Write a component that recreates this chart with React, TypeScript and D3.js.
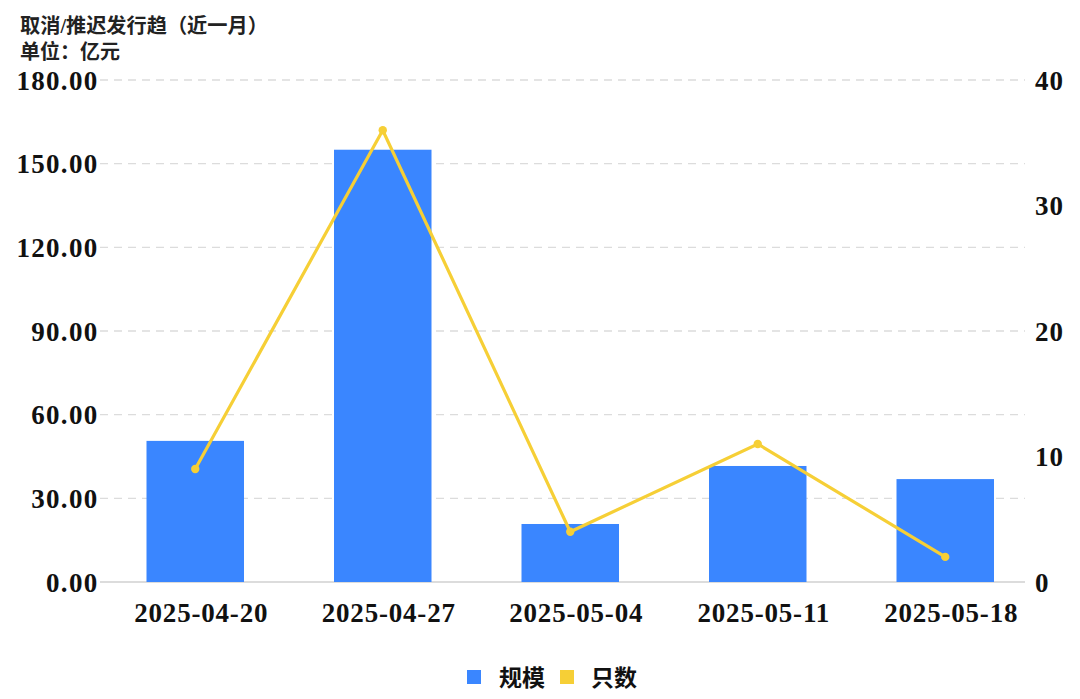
import React from "react";
import * as d3 from "d3";

const categories = ["2025-04-20", "2025-04-27", "2025-05-04", "2025-05-11", "2025-05-18"];
const scaleValues = [50.6, 155, 20.8, 41.6, 36.9];
const countValues = [9, 36, 4, 11, 2];
const leftTicks = [0, 30, 60, 90, 120, 150, 180];
const rightTicks = [0, 10, 20, 30, 40];
const title = "取消/推迟发行趋（近一月）";
const unitLabel = "单位：亿元";
const seriesNames = ["规模", "只数"];

const W = 1080;
const H = 699;
const BLUE = "#3a86ff";
const YELLOW = "#f6cf36";
const FONT = "'Liberation Serif', 'Noto Sans CJK SC', serif";

export default function App() {
  const x = d3.scaleBand<string>().domain(categories).range([101.5, 1039]).paddingInner(0.48).paddingOuter(0.24);
  const xc = (c: string) => (x(c) as number) + x.bandwidth() / 2;
  const yL = d3.scaleLinear().domain([0, 180]).range([582, 80]);
  const yR = d3.scaleLinear().domain([0, 40]).range([582, 80]);
  const line = d3
    .line<number>()
    .x((_, i) => xc(categories[i]))
    .y((d) => yR(d));
  const gx0 = 100;
  const gx1 = 1025;
  return (
    <svg
      width={W}
      height={H}
      style={{ position: "absolute", left: 0, top: 0, background: "#fff" }}
      fontFamily={FONT}
    >
      <text x={20} y={33} fontSize={20.2} fontWeight="bold" fill="#222">{title}</text>
      <text x={20} y={59} fontSize={20} fontWeight="bold" fill="#222">{unitLabel}</text>
      {leftTicks.map((t) =>
        t === 0 ? null : (
          <line key={"g" + t} x1={gx0} x2={gx1} y1={yL(t)} y2={yL(t)} stroke="#dcdcdc" strokeWidth={1.3} strokeDasharray="8,6" />
        )
      )}
      <line x1={gx0} x2={gx1} y1={yL(0)} y2={yL(0)} stroke="#dcdcdc" strokeWidth={2} />
      {leftTicks.map((t) => (
        <text key={"l" + t} x={98.5} y={yL(t) + 9.5} textAnchor="end" fontSize={27} fontWeight="bold" fill="#111" letterSpacing={1.3}>
          {t.toFixed(2)}
        </text>
      ))}
      {rightTicks.map((t) => (
        <text key={"r" + t} x={1035} y={yR(t) + 9.5} textAnchor="start" fontSize={27} fontWeight="bold" fill="#111" letterSpacing={1}>
          {t}
        </text>
      ))}
      {categories.map((c, i) => (
        <rect key={"b" + c} x={x(c)} y={yL(scaleValues[i])} width={x.bandwidth()} height={yL(0) - yL(scaleValues[i])} fill={BLUE} />
      ))}
      <path d={line(countValues) || ""} fill="none" stroke={YELLOW} strokeWidth={3.2} />
      {countValues.map((v, i) => (
        <circle key={"p" + i} cx={xc(categories[i])} cy={yR(v)} r={4.2} fill={YELLOW} />
      ))}
      {categories.map((c) => (
        <text key={"x" + c} x={xc(c) + 6} y={622} textAnchor="middle" fontSize={27} fontWeight="bold" fill="#111" letterSpacing={0.8}>
          {c}
        </text>
      ))}
      <rect x={467} y={670} width={14} height={14} fill={BLUE} />
      <text x={499} y={686} fontSize={23} fontWeight="bold" fill="#111">{seriesNames[0]}</text>
      <rect x={560} y={670} width={14} height={14} fill={YELLOW} />
      <text x={591} y={686} fontSize={23} fontWeight="bold" fill="#111">{seriesNames[1]}</text>
    </svg>
  );
}
